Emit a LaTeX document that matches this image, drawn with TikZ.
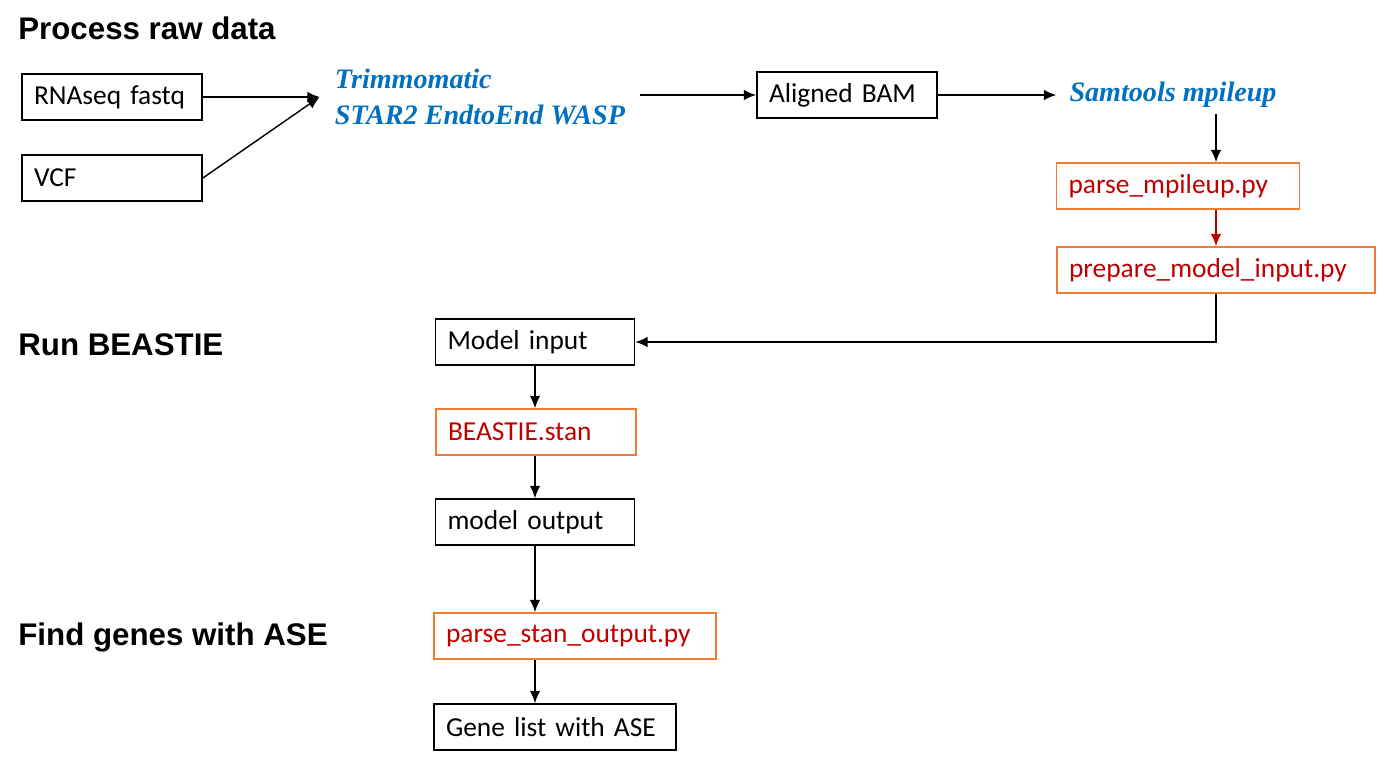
\documentclass[tikz,border=0pt]{standalone}
\usepackage{fontspec}
\setmainfont{Carlito}[WordSpace=0.75]
\newfontfamily\headfont{Liberation Sans}
\newfontfamily\toolfont{Liberation Serif}
\usetikzlibrary{arrows.meta}
\definecolor{toolblue}{HTML}{0070C0}
\definecolor{scriptred}{HTML}{C00000}
\definecolor{scriptframe}{HTML}{ED7D31}
\tikzset{
  box/.style={draw, line width=1pt, inner xsep=0.24cm, text width=#1, align=left,
    minimum height=0.92cm, font=\fontsize{15.6}{18}\selectfont},
  script/.style={box=#1, draw=scriptframe, text=scriptred},
  tool/.style={text=toolblue, align=left, inner xsep=0.3cm,
    font=\toolfont\bfseries\itshape\fontsize{16}{20}\selectfont},
  heading/.style={anchor=west, inner sep=0pt, font=\headfont\bfseries\fontsize{17.8}{20}\selectfont},
  flow/.style={-{Latex[length=7pt,width=6pt]}, line width=0.8pt}
}

\begin{document}
\begin{tikzpicture}[x=0.02cm,y=-0.02cm]
\useasboundingbox (0,0) rectangle (1386,760);

\node[heading] (h1) at (18,28) {Process raw data};
\node[heading] (h2) at (18,345) {Run BEASTIE};
\node[heading] (h3) at (18,637) {Find genes with ASE};

% raw data
\node[box=3.12cm] (fastq) at (112,97) {RNAseq fastq};
\node[box=3.12cm] (vcf) at (112,178) {VCF};
\node[tool] (trim) at (480,97) {Trimmomatic\\STAR2 EndtoEnd WASP};
\node[box=3.12cm] (bam) at (847,95) {Aligned BAM};
\node[tool, inner xsep=0.26cm] (sam) at (1173,95) {Samtools mpileup};
\node[script=4.38cm] (pmp) at (1178,186) {parse\_mpileup.py};
\node[script=5.88cm] (pmi) at (1216,270) {prepare\_model\_input.py};

\draw[flow] (fastq.east) -- (trim.west);
\draw[flow] (vcf.east) -- (trim.west);
\draw[flow] (trim.east |- bam) -- (bam.west);
\draw[flow] (bam.east) -- (sam.west);
\draw[flow] (sam.south -| pmi) -- (pmp.north -| pmi);
\draw[flow, scriptred] (pmp.south -| pmi) -- (pmi.north);

% model
\node[box=3.5cm] (min) at (535,342) {Model input};
\node[script=3.52cm] (stan) at (536,432) {BEASTIE.stan};
\node[box=3.5cm] (mout) at (535,522) {model output};

\draw[flow] (pmi.south) |- (min.east);
\draw[flow] (min.south -| mout) -- (stan.north -| mout);
\draw[flow] (stan.south -| mout) -- (mout.north);

% ASE
\node[script=5.16cm] (pso) at (575,636) {parse\_stan\_output.py};
\node[box=4.36cm] (gene) at (555,727) {Gene list with ASE};

\draw[flow] (mout.south) -- (mout.south |- pso.north);
\draw[flow] (pso.south -| mout) -- (gene.north -| mout);
\end{tikzpicture}
\end{document}
